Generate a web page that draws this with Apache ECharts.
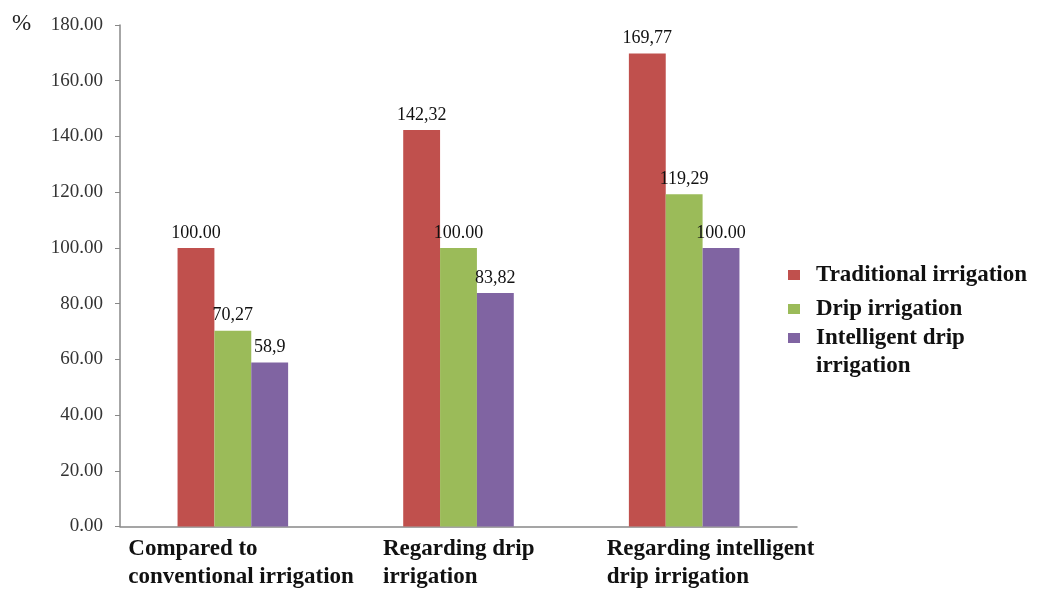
<!DOCTYPE html>
<html>
<head>
<meta charset="utf-8">
<script src="https://cdn.jsdelivr.net/npm/echarts@6/dist/echarts.min.js"></script>
<style>
  html, body { margin: 0; padding: 0; background: #fff; }
  #chart { width: 1041px; height: 589px; }
</style>
</head>
<body>
<div id="chart"></div>
<script>
// Relative water use, in percent of each reference method
const categories = [
  ['Compared to', 'conventional irrigation'],
  ['Regarding drip', 'irrigation'],
  ['Regarding intelligent', 'drip irrigation']
];
const seriesNames = ['Traditional irrigation', 'Drip irrigation', 'Intelligent drip irrigation'];
const traditional = [100.00, 142.32, 169.77];
const drip = [70.27, 100.00, 119.29];
const intelligent = [58.9, 83.82, 100.00];
const colors = ['#C0504D', '#9BBB59', '#8064A2'];

// layout width of each category label block (lines are left-aligned inside it)
const labelBlockWidths = [209, 151, 155];

const serif = '"Liberation Serif", "DejaVu Serif", serif';

function valueText(v) {
  return v === 100 ? '100.00' : String(v).replace('.', ',');
}

function makeSeries(name, data, color) {
  return {
    name: name,
    type: 'bar',
    data: data,
    barGap: '0%',
    barCategoryGap: '51%',
    itemStyle: { color: color },
    label: {
      show: true,
      position: 'top',
      distance: 6,
      color: '#111',
      fontFamily: serif,
      fontSize: 18,
      formatter: p => valueText(p.value)
    }
  };
}

const rich = {};
labelBlockWidths.forEach((w, i) => {
  rich['c' + i] = {
    width: w,
    align: 'left',
    fontFamily: serif,
    fontWeight: 'bold',
    fontSize: 23,
    lineHeight: 28,
    color: '#111'
  };
});

const legendText = {
  fontFamily: serif,
  fontWeight: 'bold',
  fontSize: 23,
  lineHeight: 28,
  color: '#111',
  padding: [0, 0, 0, 11]
};

const chart = echarts.init(document.getElementById('chart'));
chart.setOption({
  animation: false,
  backgroundColor: '#fff',
  title: {
    text: '%',
    left: 12,
    top: 12,
    padding: 0,
    textStyle: { fontFamily: serif, fontSize: 23, fontWeight: 'normal', color: '#222' }
  },
  legend: [
    {
      orient: 'vertical',
      left: 788,
      top: 261,
      padding: 0,
      itemWidth: 12,
      itemHeight: 10,
      itemGap: 6,
      icon: 'rect',
      data: seriesNames.slice(0, 2),
      textStyle: legendText
    },
    {
      orient: 'vertical',
      left: 788,
      top: 296,
      padding: 0,
      itemWidth: 12,
      itemHeight: 10,
      icon: 'rect',
      data: seriesNames.slice(2),
      // an empty first line keeps the marker level with "Intelligent drip"
      formatter: () => ' \nIntelligent drip\nirrigation',
      textStyle: legendText
    }
  ],
  grid: { left: 120, right: 244, top: 25, bottom: 61 },
  xAxis: {
    type: 'category',
    data: categories.map(c => c.join('\n')),
    axisLine: { lineStyle: { color: '#888', width: 1.5 } },
    axisTick: { show: false },
    axisLabel: {
      interval: 0,
      margin: 9,
      formatter: (v, i) => v.split('\n').map(line => '{c' + i + '|' + line + '}').join('\n'),
      rich: rich
    }
  },
  yAxis: {
    type: 'value',
    min: 0,
    max: 180,
    interval: 20,
    axisLine: { show: true, lineStyle: { color: '#888', width: 1.5 } },
    axisTick: { show: true, length: 5, lineStyle: { color: '#888' } },
    splitLine: { show: false },
    axisLabel: {
      margin: 17,
      fontFamily: serif,
      fontSize: 19,
      color: '#333',
      formatter: v => v.toFixed(2)
    }
  },
  series: [
    makeSeries(seriesNames[0], traditional, colors[0]),
    makeSeries(seriesNames[1], drip, colors[1]),
    makeSeries(seriesNames[2], intelligent, colors[2])
  ]
});
</script>
</body>
</html>
